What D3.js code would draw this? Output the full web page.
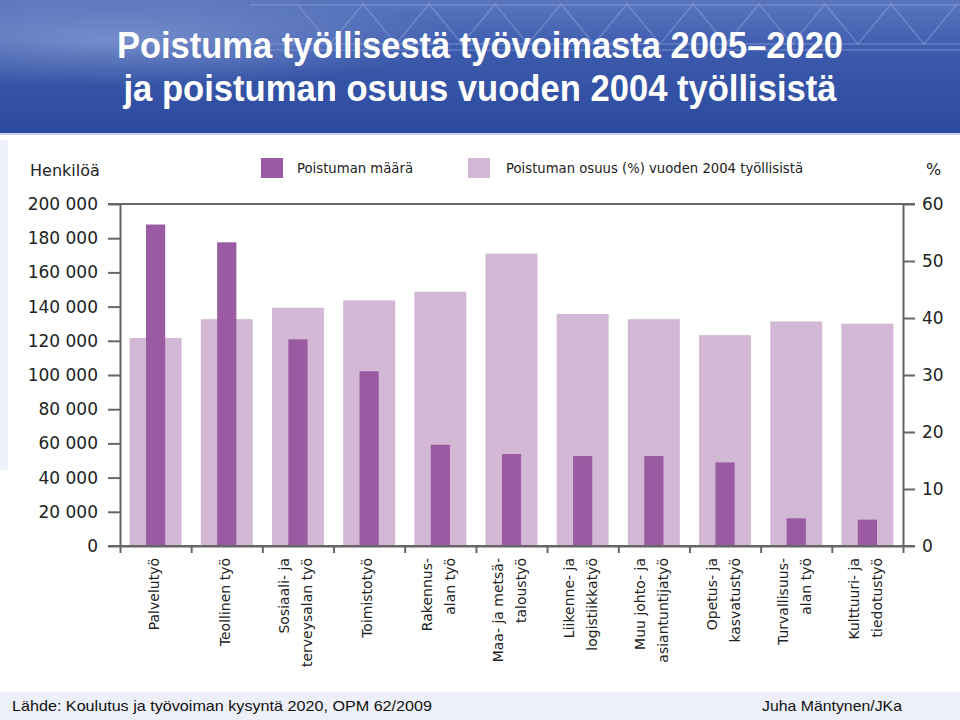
<!DOCTYPE html>
<html><head><meta charset="utf-8">
<script src="https://cdn.jsdelivr.net/npm/d3@7"></script>
<style>body{margin:0;background:#fff}svg{display:block}</style>
</head><body>
<script>
// ---- data ----
const categories = [
  ["Palvelutyö"],
  ["Teollinen työ"],
  ["Sosiaali- ja", "terveysalan työ"],
  ["Toimistotyö"],
  ["Rakennus-", "alan työ"],
  ["Maa- ja metsä-", "taloustyö"],
  ["Liikenne- ja", "logistiikkatyö"],
  ["Muu johto- ja", "asiantuntijatyö"],
  ["Opetus- ja", "kasvatustyö"],
  ["Turvallisuus-", "alan työ"],
  ["Kulttuuri- ja", "tiedotustyö"]
];
const poistumanMaara = [188000, 177600, 120900, 102200, 59200, 53800, 52600, 52600, 48900, 16200, 15400];
const poistumanOsuus = [36.5, 39.8, 41.8, 43.1, 44.6, 51.3, 40.7, 39.8, 37.0, 39.4, 39.0];
const leftTicks = [0, 20000, 40000, 60000, 80000, 100000, 120000, 140000, 160000, 180000, 200000];
const rightTicks = [0, 10, 20, 30, 40, 50, 60];
const titleLines = ["Poistuma työllisestä työvoimasta 2005–2020", "ja poistuman osuus vuoden 2004 työllisistä"];
const legendLabels = ["Poistuman määrä", "Poistuman osuus (%) vuoden 2004 työllisistä"];

// ---- drawing ----
const W = 960, H = 720;
const svg = d3.select("body").append("svg").attr("width", W).attr("height", H);
const defs = svg.append("defs");
const hg = defs.append("linearGradient").attr("id", "hdr").attr("x1", 0).attr("y1", 0).attr("x2", 0).attr("y2", 1);
hg.append("stop").attr("offset", 0).attr("stop-color", "#5a76bf");
hg.append("stop").attr("offset", 0.4).attr("stop-color", "#3b5aab");
hg.append("stop").attr("offset", 1).attr("stop-color", "#2c4a9f");
const rg = defs.append("radialGradient").attr("id", "glow").attr("cx", 0.12).attr("cy", 0.3).attr("r", 0.35);
rg.append("stop").attr("offset", 0).attr("stop-color", "#9fb2e0").attr("stop-opacity", 0.55);
rg.append("stop").attr("offset", 1).attr("stop-color", "#9fb2e0").attr("stop-opacity", 0);

// header
svg.append("rect").attr("x", 0).attr("y", 0).attr("width", W).attr("height", 133).attr("fill", "url(#hdr)");
svg.append("rect").attr("x", 0).attr("y", 0).attr("width", W).attr("height", 133).attr("fill", "url(#glow)");
// decorative truss
const truss = svg.append("g").attr("stroke", "#8fa6e0").attr("stroke-opacity", 0.45).attr("fill", "none").attr("stroke-width", 1.5);
const zig = d3.range(9, 30).map(i => [i * 33, i % 2 ? 4 : 44]);
truss.append("path").attr("d", d3.line()(zig));
truss.append("line").attr("x1", 250).attr("x2", 960).attr("y1", 44).attr("y2", 44);
truss.append("line").attr("x1", 250).attr("x2", 960).attr("y1", 50).attr("y2", 50);
truss.append("line").attr("x1", 250).attr("x2", 960).attr("y1", 5).attr("y2", 5);
svg.append("rect").attr("x", 0).attr("y", 133).attr("width", W).attr("height", 2).attr("fill", "#c9d1ec");

// side strip & footer band
svg.append("rect").attr("x", 0).attr("y", 140).attr("width", 8).attr("height", 330).attr("fill", "#eef0fa");
svg.append("rect").attr("x", 0).attr("y", 692).attr("width", W).attr("height", 28).attr("fill", "#eef0f9");

// title
svg.append("g").selectAll("text").data(titleLines).join("text")
  .attr("x", 480).attr("y", (d, i) => 58 + i * 43)
  .attr("text-anchor", "middle")
  .attr("font-family", "Liberation Sans, Arial, sans-serif")
  .attr("font-weight", "bold").attr("font-size", 36).attr("fill", "#fff")
  .attr("textLength", (d, i) => i === 0 ? 726 : 713)
  .attr("lengthAdjust", "spacingAndGlyphs")
  .text(d => d);

// chart
const font = "DejaVu Sans, sans-serif";
const axisColor = "#666";
const x = d3.scaleBand().domain(d3.range(categories.length)).range([120, 903]);
const xb = d3.scaleLinear().domain([0, categories.length]).range([120, 903]);
const yL = d3.scaleLinear().domain([0, 200000]).range([546, 204]);
const yR = d3.scaleLinear().domain([0, 60]).range([546, 204]);

const bw = x.bandwidth();
const lightW = bw * 0.73, darkW = bw * 0.27;
const lightC = "#d3b8d6", darkC = "#9a5ba2";

svg.append("g").selectAll("rect").data(poistumanOsuus).join("rect")
  .attr("x", (d, i) => x(i) + (bw - lightW) / 2)
  .attr("y", d => yR(d))
  .attr("width", lightW)
  .attr("height", d => yR(0) - yR(d))
  .attr("fill", lightC);

svg.append("g").selectAll("rect").data(poistumanMaara).join("rect")
  .attr("x", (d, i) => x(i) + (bw - darkW) / 2)
  .attr("y", d => yL(d))
  .attr("width", darkW)
  .attr("height", d => yL(0) - yL(d))
  .attr("fill", darkC);

function styleAxis(g) {
  g.selectAll("path, line").attr("stroke", axisColor).attr("stroke-width", 2);
  g.selectAll("text").attr("fill", "#222").attr("font-family", font);
}

const fmt = d => d3.format(",")(d).replace(/,/g, " ");
svg.append("g").attr("transform", "translate(120,0)")
  .call(d3.axisLeft(yL).tickValues(leftTicks).tickSize(12).tickSizeOuter(0).tickPadding(10).tickFormat(fmt))
  .call(styleAxis).call(g => g.selectAll("text").attr("font-size", 17));

svg.append("g").attr("transform", "translate(903,0)")
  .call(d3.axisRight(yR).tickValues(rightTicks).tickSize(12).tickSizeOuter(0).tickPadding(7))
  .call(styleAxis).call(g => g.selectAll("text").attr("font-size", 17));

// frame lines top & bottom
svg.append("g").selectAll("line").data([200000, 0]).join("line")
  .attr("x1", 108).attr("x2", 915)
  .attr("y1", d => yL(d)).attr("y2", d => yL(d))
  .attr("stroke", axisColor).attr("stroke-width", 2);

svg.append("g").attr("transform", "translate(0,546)")
  .call(d3.axisBottom(xb).tickValues(d3.range(categories.length + 1)).tickSize(7).tickSizeOuter(0).tickFormat(""))
  .call(styleAxis);

// category labels
const lab = svg.append("g").attr("font-family", font).attr("font-size", 14).attr("fill", "#222");
categories.forEach((lines, i) => {
  const c = x(i) + bw / 2;
  lines.forEach((t, j) => {
    const bx = c + 3 + (j - (lines.length - 1) / 2) * 23;
    lab.append("text")
      .attr("transform", `translate(${bx},558) rotate(-90)`)
      .attr("text-anchor", "end")
      .text(t);
  });
});

// axis titles
svg.append("text").attr("x", 30).attr("y", 176).attr("font-family", font).attr("font-size", 16).attr("fill", "#222").text("Henkilöä");
svg.append("text").attr("x", 926).attr("y", 175).attr("font-family", font).attr("font-size", 16).attr("fill", "#222").text("%");

// legend
const legend = [
  {label: legendLabels[0], color: darkC, sx: 261, tx: 297, tl: 116},
  {label: legendLabels[1], color: lightC, sx: 468, tx: 506, tl: 297}
];
const lg = svg.append("g");
lg.selectAll("rect").data(legend).join("rect")
  .attr("x", d => d.sx).attr("y", 158).attr("width", 22).attr("height", 20).attr("fill", d => d.color);
lg.selectAll("text").data(legend).join("text")
  .attr("x", d => d.tx).attr("y", 173)
  .attr("font-family", font).attr("font-size", 14).attr("fill", "#222")
  .attr("textLength", d => d.tl).attr("lengthAdjust", "spacingAndGlyphs")
  .text(d => d.label);

// footer
svg.append("text").attr("x", 12).attr("y", 711)
  .attr("font-family", "Liberation Sans, Arial, sans-serif").attr("font-size", 15).attr("fill", "#111")
  .attr("textLength", 420).attr("lengthAdjust", "spacingAndGlyphs")
  .text("Lähde: Koulutus ja työvoiman kysyntä 2020, OPM 62/2009");
svg.append("text").attr("x", 762).attr("y", 711)
  .attr("font-family", "Liberation Sans, Arial, sans-serif").attr("font-size", 15).attr("fill", "#111")
  .attr("textLength", 140).attr("lengthAdjust", "spacingAndGlyphs")
  .text("Juha Mäntynen/JKa");
</script>
</body></html>
